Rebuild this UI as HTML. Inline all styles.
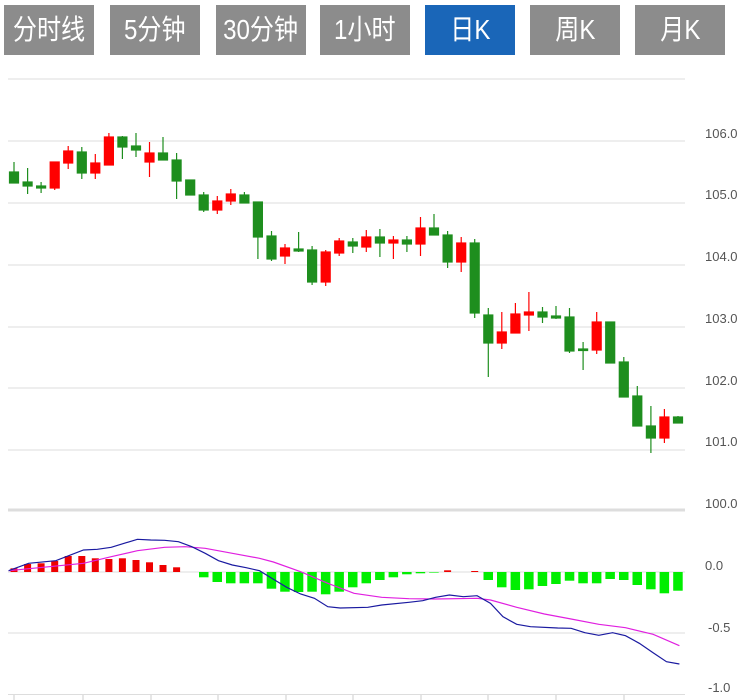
<!DOCTYPE html>
<html><head><meta charset="utf-8"><style>
body{margin:0;width:747px;height:700px;background:#fff;overflow:hidden;font-family:"Liberation Sans","Noto Sans CJK SC",sans-serif}
.b{position:absolute;top:5px;height:50px;width:90px;background:#8c8c8c;color:#fff;font-size:28px;line-height:50px;text-align:center;font-family:"Liberation Sans","Noto Sans CJK SC",sans-serif;overflow:hidden}
.b span{display:inline-block;transform:scaleX(0.86);white-space:nowrap}
.a{background:#1a66b8}
svg{position:absolute;left:0;top:0}
</style></head><body>
<div class="b" style="left:4px"><span>分时线</span></div>
<div class="b" style="left:110px"><span>5分钟</span></div>
<div class="b" style="left:216px"><span>30分钟</span></div>
<div class="b" style="left:320px"><span>1小时</span></div>
<div class="b a" style="left:425px"><span>日K</span></div>
<div class="b" style="left:530px"><span>周K</span></div>
<div class="b" style="left:635px"><span>月K</span></div>
<svg width="747" height="700" viewBox="0 0 747 700">
<g stroke="#ddd" stroke-width="1">
<line x1="8" y1="79" x2="685" y2="79"/><line x1="8" y1="141" x2="685" y2="141"/><line x1="8" y1="203" x2="685" y2="203"/><line x1="8" y1="265" x2="685" y2="265"/><line x1="8" y1="327" x2="685" y2="327"/><line x1="8" y1="388" x2="685" y2="388"/><line x1="8" y1="450" x2="685" y2="450"/>
<line x1="8" y1="572" x2="685" y2="572"/><line x1="8" y1="633" x2="685" y2="633"/><line x1="8" y1="694.5" x2="685" y2="694.5"/>
</g>
<line x1="8" y1="510" x2="685" y2="510" stroke="#ddd" stroke-width="3"/>
<g stroke="#ccc"><line x1="14" y1="695" x2="14" y2="700"/><line x1="83" y1="695" x2="83" y2="700"/><line x1="151" y1="695" x2="151" y2="700"/><line x1="218" y1="695" x2="218" y2="700"/><line x1="286" y1="695" x2="286" y2="700"/><line x1="353" y1="695" x2="353" y2="700"/><line x1="421" y1="695" x2="421" y2="700"/><line x1="488" y1="695" x2="488" y2="700"/><line x1="556" y1="695" x2="556" y2="700"/><line x1="624" y1="695" x2="624" y2="700"/></g>
<g font-family="Liberation Sans, sans-serif" font-size="13" fill="#555">
<text x="705" y="138">106.0</text><text x="705" y="199">105.0</text><text x="705" y="261">104.0</text><text x="705" y="323">103.0</text><text x="705" y="385">102.0</text><text x="705" y="446">101.0</text><text x="705" y="508">100.0</text>
<text x="705" y="570">0.0</text><text x="708" y="632">-0.5</text><text x="708" y="692">-1.0</text>
</g>
<g id="c" stroke-width="1.2">
<g stroke="#1e8e1e" fill="#1e8e1e">
<line x1="14" y1="162" x2="14" y2="183"/><rect x="9.5" y="172" width="9" height="11"/>
<line x1="27.6" y1="168" x2="27.6" y2="194"/><rect x="23.1" y="182" width="9" height="4"/>
<line x1="41.1" y1="182" x2="41.1" y2="193"/><rect x="36.6" y="186" width="9" height="2"/>
<line x1="81.8" y1="147" x2="81.8" y2="179"/><rect x="77.3" y="152" width="9" height="21"/>
<line x1="122.4" y1="136" x2="122.4" y2="159"/><rect x="117.9" y="137" width="9" height="10"/>
<line x1="136" y1="133" x2="136" y2="157"/><rect x="131.5" y="146" width="9" height="4"/>
<line x1="163" y1="137" x2="163" y2="160"/><rect x="158.5" y="153" width="9" height="7"/>
<line x1="176.6" y1="153" x2="176.6" y2="199"/><rect x="172.1" y="160" width="9" height="21"/>
<rect x="185.7" y="180" width="9" height="15"/>
<line x1="203.7" y1="192" x2="203.7" y2="212"/><rect x="199.2" y="195" width="9" height="15"/>
<line x1="244.4" y1="192" x2="244.4" y2="203"/><rect x="239.9" y="195" width="9" height="8"/>
<line x1="257.9" y1="202" x2="257.9" y2="259"/><rect x="253.4" y="202" width="9" height="35"/>
<line x1="271.5" y1="231" x2="271.5" y2="261"/><rect x="267" y="236" width="9" height="23"/>
<line x1="298.6" y1="232" x2="298.6" y2="252"/><rect x="294.1" y="249" width="9" height="2"/>
<line x1="312.1" y1="246" x2="312.1" y2="285"/><rect x="307.6" y="250" width="9" height="32"/>
<line x1="352.8" y1="238" x2="352.8" y2="253"/><rect x="348.3" y="242" width="9" height="4"/>
<line x1="379.9" y1="229" x2="379.9" y2="257"/><rect x="375.4" y="237" width="9" height="6"/>
<line x1="406.9" y1="236" x2="406.9" y2="252"/><rect x="402.4" y="240" width="9" height="4"/>
<line x1="434" y1="214" x2="434" y2="235"/><rect x="429.5" y="228" width="9" height="7"/>
<line x1="447.6" y1="231" x2="447.6" y2="268"/><rect x="443.1" y="235" width="9" height="27"/>
<line x1="474.7" y1="239" x2="474.7" y2="318"/><rect x="470.2" y="243" width="9" height="70"/>
<line x1="488.3" y1="308" x2="488.3" y2="377"/><rect x="483.8" y="315" width="9" height="28"/>
<line x1="542.5" y1="307" x2="542.5" y2="323"/><rect x="538" y="312" width="9" height="5"/>
<line x1="556" y1="306" x2="556" y2="319"/><rect x="551.5" y="316" width="9" height="2"/>
<line x1="569.5" y1="308" x2="569.5" y2="353"/><rect x="565" y="317" width="9" height="34"/>
<line x1="583.1" y1="342" x2="583.1" y2="370"/><rect x="578.6" y="349" width="9" height="1.5"/>
<rect x="605.7" y="322" width="9" height="41"/>
<line x1="623.8" y1="357" x2="623.8" y2="397"/><rect x="619.3" y="362" width="9" height="35"/>
<line x1="637.3" y1="386" x2="637.3" y2="426"/><rect x="632.8" y="396" width="9" height="30"/>
<line x1="650.9" y1="406" x2="650.9" y2="453"/><rect x="646.4" y="426" width="9" height="12"/>
<line x1="678" y1="416" x2="678" y2="423"/><rect x="673.5" y="417" width="9" height="6"/>
</g>
<g stroke="#f00" fill="#f00">
<line x1="54.7" y1="162" x2="54.7" y2="190"/><rect x="50.2" y="162" width="9" height="26"/>
<line x1="68.2" y1="146" x2="68.2" y2="169"/><rect x="63.7" y="151" width="9" height="12"/>
<line x1="95.3" y1="154" x2="95.3" y2="179"/><rect x="90.8" y="163" width="9" height="10"/>
<line x1="108.9" y1="133" x2="108.9" y2="165"/><rect x="104.4" y="137" width="9" height="28"/>
<line x1="149.5" y1="142" x2="149.5" y2="177"/><rect x="145" y="153" width="9" height="9"/>
<line x1="217.3" y1="196" x2="217.3" y2="214"/><rect x="212.8" y="201" width="9" height="9"/>
<line x1="230.8" y1="189" x2="230.8" y2="205"/><rect x="226.3" y="194" width="9" height="7"/>
<line x1="285" y1="244" x2="285" y2="264"/><rect x="280.5" y="248" width="9" height="8"/>
<line x1="325.7" y1="250" x2="325.7" y2="286"/><rect x="321.2" y="252" width="9" height="30"/>
<line x1="339.2" y1="238" x2="339.2" y2="256"/><rect x="334.7" y="241" width="9" height="12"/>
<line x1="366.3" y1="230" x2="366.3" y2="252"/><rect x="361.8" y="237" width="9" height="10"/>
<line x1="393.4" y1="236" x2="393.4" y2="259"/><rect x="388.9" y="240" width="9" height="3"/>
<line x1="420.5" y1="217" x2="420.5" y2="256"/><rect x="416" y="228" width="9" height="16"/>
<line x1="461.2" y1="237" x2="461.2" y2="272"/><rect x="456.7" y="243" width="9" height="19"/>
<line x1="501.8" y1="312" x2="501.8" y2="349"/><rect x="497.3" y="332" width="9" height="11"/>
<line x1="515.4" y1="303" x2="515.4" y2="333"/><rect x="510.9" y="314" width="9" height="19"/>
<line x1="528.9" y1="292" x2="528.9" y2="331"/><rect x="524.4" y="312" width="9" height="3"/>
<line x1="596.7" y1="312" x2="596.7" y2="354"/><rect x="592.2" y="322" width="9" height="28"/>
<line x1="664.4" y1="409" x2="664.4" y2="443"/><rect x="659.9" y="417" width="9" height="21"/>
</g>
</g>
<g fill="#e00">
<rect x="10.5" y="568.3" width="7" height="3.7"/><rect x="24.1" y="564" width="7" height="8"/><rect x="37.6" y="563.3" width="7" height="8.7"/><rect x="51.2" y="561" width="7" height="11"/><rect x="64.7" y="556" width="7" height="16"/><rect x="78.3" y="556" width="7" height="16"/><rect x="91.8" y="558.3" width="7" height="13.7"/><rect x="105.4" y="559" width="7" height="13"/><rect x="118.9" y="558.3" width="7" height="13.7"/><rect x="132.5" y="560" width="7" height="12"/><rect x="146" y="562.3" width="7" height="9.7"/><rect x="159.5" y="565" width="7" height="7"/><rect x="173.1" y="567.3" width="7" height="4.7"/>
<rect x="444.1" y="570.3" width="7" height="1.7"/><rect x="471.2" y="571" width="7" height="1"/>
</g>
<g fill="#0e0">
<rect x="199" y="572" width="9.5" height="5.3"/><rect x="212.5" y="572" width="9.5" height="10"/><rect x="226" y="572" width="9.5" height="11.3"/><rect x="239.6" y="572" width="9.5" height="11.3"/><rect x="253.1" y="572" width="9.5" height="11.3"/><rect x="266.7" y="572" width="9.5" height="16.7"/><rect x="280.2" y="572" width="9.5" height="19.7"/><rect x="293.8" y="572" width="9.5" height="20"/><rect x="307.3" y="572" width="9.5" height="19.7"/><rect x="320.9" y="572" width="9.5" height="22.3"/><rect x="334.4" y="572" width="9.5" height="19.7"/><rect x="348" y="572" width="9.5" height="15.3"/><rect x="361.5" y="572" width="9.5" height="11.3"/><rect x="375.1" y="572" width="9.5" height="8"/><rect x="388.6" y="572" width="9.5" height="5.3"/><rect x="402.1" y="572" width="9.5" height="2.3"/><rect x="415.7" y="572" width="9.5" height="1.3"/><rect x="429.2" y="572" width="9.5" height="0.6"/>
<rect x="483.5" y="572" width="9.5" height="8"/><rect x="497" y="572" width="9.5" height="15.3"/><rect x="510.6" y="572" width="9.5" height="18"/><rect x="524.1" y="572" width="9.5" height="17.3"/><rect x="537.7" y="572" width="9.5" height="14"/><rect x="551.2" y="572" width="9.5" height="12"/><rect x="564.8" y="572" width="9.5" height="8.7"/><rect x="578.3" y="572" width="9.5" height="11.3"/><rect x="591.9" y="572" width="9.5" height="11.3"/><rect x="605.4" y="572" width="9.5" height="7"/><rect x="619" y="572" width="9.5" height="8"/><rect x="632.5" y="572" width="9.5" height="13"/><rect x="646.1" y="572" width="9.5" height="17.3"/><rect x="659.6" y="572" width="9.5" height="21.3"/><rect x="673.2" y="572" width="9.5" height="18.7"/>
</g>
<polyline fill="none" stroke="#e020e0" stroke-width="1.2" points="8.6,570.7 83.5,563.3 111.2,556.7 137.4,550.7 164.6,547.3 185.1,546.7 205.2,548.3 232.3,553.3 259.5,558.3 273.4,562 300.6,571.7 327.8,583.3 354,593.3 381.7,597.3 408.9,598.7 435.6,599 477.1,598.3 490.5,600 516.7,607.3 544.4,614 571.1,619 598.8,624.3 625.5,627.7 653.1,634.3 679.4,645.7"/>
<polyline fill="none" stroke="#1a1aa0" stroke-width="1.2" points="8.6,570.7 28.6,563.3 55.8,560.7 83.5,550 97.3,549.3 111.2,547.3 137.4,539.3 150.8,540 164.6,540.3 178.4,541.7 191.8,546.7 205.2,553.3 218.5,560.7 232.3,565 246.2,567.7 259.5,570.7 273.4,579.3 286.7,587.3 300.6,594 314.4,598.3 327.8,606.7 340.2,608 367.8,607.3 381.7,605 408.9,602.3 422.7,600.7 435.6,597.3 449.4,595 463.3,596.7 477.1,595.7 490.5,603.3 502.9,616.7 516.7,624.3 530.5,626.7 557.7,628 571.1,628.3 584.9,632.7 598.8,635.3 612.6,632.7 625.5,635.7 639.3,643.3 653.1,652.7 666.5,661.7 679.4,664"/>
</svg>
</body></html>
